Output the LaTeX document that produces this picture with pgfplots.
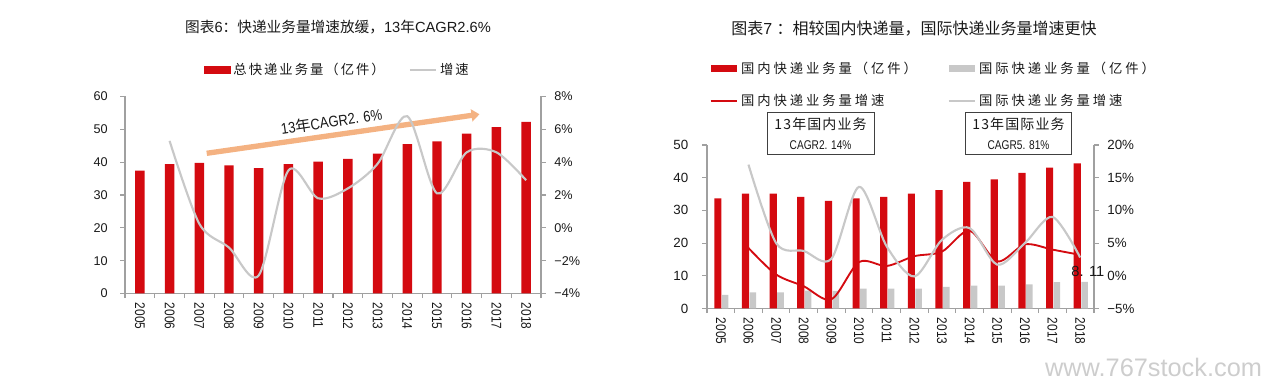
\documentclass[border=0pt]{standalone}
\usepackage{fontspec}
\setmainfont{Liberation Sans}
\newfontfamily\cjk{Noto Sans CJK SC}
\newfontfamily\cjkleg[LetterSpace=15]{Noto Sans CJK SC}
\newfontfamily\cjklegb[LetterSpace=22]{Noto Sans CJK SC}
\newfontfamily\cjkbox[LetterSpace=8]{Noto Sans CJK SC}
\newfontfamily\narrow[FakeStretch=0.85]{Liberation Sans}
\newfontfamily\narrowb[FakeStretch=0.8]{Liberation Sans}
\usepackage{pgfplots}
\usepackage{pgfplotstable}
\pgfplotsset{compat=1.18}
\usetikzlibrary{arrows.meta}

\definecolor{myred}{RGB}{212,10,16}
\definecolor{mygray}{RGB}{200,200,200}
\definecolor{linegray}{RGB}{200,200,200}
\definecolor{axcol}{RGB}{160,160,160}
\definecolor{txt}{RGB}{25,25,25}
\definecolor{arrowc}{RGB}{244,178,130}
\definecolor{wm}{RGB}{205,205,205}

\pgfplotstableread{
x y
0 37.4
1 39.4
2 39.8
3 39.0
4 38.2
5 39.4
6 40.2
7 41.0
8 42.6
9 45.5
10 46.3
11 48.7
12 50.7
13 52.3
}\lvol

\pgfplotstableread{
x y
1 5.3
2 0.25
3 -1.2
4 -2.9
5 3.5
6 1.8
7 2.4
8 3.9
9 6.8
10 2.1
11 4.6
12 4.6
13 2.9
}\lgrowth

\pgfplotstableread{
x dom intl
0 33.7 4.2
1 35.1 4.9
2 35.1 4.9
3 34.1 5.5
4 32.9 5.4
5 33.7 6.1
6 34.1 6.1
7 35.1 6.1
8 36.2 6.6
9 38.7 7.0
10 39.5 7.0
11 41.5 7.4
12 43.1 8.07
13 44.4 8.11
}\rvol

\pgfplotstableread{
x dom intl
1 4.25 17.0
2 0.2 5.0
3 -1.6 3.8
4 -3.6 2.6
5 2.1 13.6
6 1.5 4.5
7 3.0 -0.1
8 3.7 5.5
9 6.9 7.3
10 2.2 1.7
11 4.8 5.0
12 4.0 9.0
13 3.2 2.8
}\rgrowth

\pgfplotsset{
  base/.style={
    scale only axis,
    xmin=-0.5, xmax=13.5,
    clip=false,
    axis line style={axcol, line width=0.8pt},
    tick style={axcol, line width=0.8pt},
    major tick length=3.5pt,
    minor tick length=3.5pt,
    tick align=outside,
    ticklabel style={text=txt},
  },
  yearx/.style={
    axis x line*=bottom,
    xtick={0,...,13},
    xticklabels={2005,2006,2007,2008,2009,2010,2011,2012,2013,2014,2015,2016,2017,2018},
    major x tick style={draw=none},
    minor xtick={-0.5,0.5,...,13.5},
    xticklabel style={rotate=-90, anchor=west, font=\narrow\fontsize{10.5}{12}\selectfont, yshift=0pt},
  },
}

\begin{document}
\begin{tikzpicture}
\path[use as bounding box] (0,0) rectangle (948pt,291.75pt);

% titles
\node[text=txt, font=\fontsize{11}{13}\selectfont] at (253.5pt,271.5pt) {{\cjk 图表}6{\cjk ：快递业务量增速放缓，}13{\cjk 年}CAGR2.6\%};
\node[text=txt, font=\fontsize{12}{14}\selectfont] at (685.5pt,270.5pt) {{\cjk 图表}7 {\cjk ：相较国内快递量，国际快递业务量增速更快}};

% ---------------- left chart ----------------
\begin{axis}[base, yearx,
  at={(93.75pt,71.625pt)}, anchor=south west,
  width=312pt, height=147.75pt,
  ymin=0, ymax=60,
  axis y line*=left,
  ytick={0,10,20,30,40,50,60},
  yticklabels={0,10,20,30,40,50,60},
  yticklabel style={font=\fontsize{9.5}{11}\selectfont, xshift=-6pt},
  legend columns=2,
  legend cell align=left,
  legend style={at={(axis description cs:0.18,1.134)}, anchor=west, draw=none, fill=none,
    font=\cjkleg\fontsize{10}{12}\selectfont, text=txt, column sep=0pt,
    /tikz/every even column/.append style={column sep=16pt}},
]
\addplot[ybar, bar width=7.1pt, bar shift=0pt, fill=myred, draw=none,
  legend image code/.code={\fill[myred] (0pt,-2.8pt) rectangle (20pt,2.8pt);}]
  table[x=x,y=y]{\lvol};
\addlegendentry{总快递业务量（亿件）}
\addlegendimage{legend image code/.code={\draw[linegray, line width=1.5pt] (0pt,0pt) -- (20pt,0pt);}}
\addlegendentry{增速}
\draw[arrowc, line width=4pt, -{Triangle[length=6pt, width=9pt]}] (axis cs:2.25,42.7) -- (axis cs:11.43,54.6);
\node[rotate=8.5, font=\narrow\fontsize{11.5}{13}\selectfont, text=txt] at (axis cs:6.45,52.4) {13{\cjk 年}CAGR2. 6\%};
\end{axis}

\begin{axis}[base,
  at={(93.75pt,71.625pt)}, anchor=south west,
  width=312pt, height=147.75pt,
  ymin=-4, ymax=8,
  axis x line=none,
  axis y line*=right,
  ytick={-4,-2,0,2,4,6,8},
  yticklabels={−4\%,−2\%,0\%,2\%,4\%,6\%,8\%},
  yticklabel style={font=\fontsize{9.5}{11}\selectfont, xshift=3pt},
]
\addplot[smooth, linegray, line width=1.6pt] table[x=x,y=y]{\lgrowth};
\end{axis}

% ---------------- right chart ----------------
\begin{axis}[base, yearx,
  at={(530.25pt,60.375pt)}, anchor=south west,
  width=290.25pt, height=122.625pt,
  ymin=0, ymax=50,
  axis y line*=left,
  ytick={0,10,20,30,40,50},
  yticklabels={0,10,20,30,40,50},
  yticklabel style={font=\fontsize{10}{12}\selectfont, xshift=-7pt},
  legend columns=2,
  legend cell align=left,
  legend style={at={(axis description cs:-0.004,1.37)}, anchor=west, draw=none, fill=none,
    font=\cjklegb\fontsize{10}{12}\selectfont, text=txt, column sep=0pt, row sep=10pt,
    /tikz/every even column/.append style={column sep=21pt}},
]
\addplot[ybar, bar width=5.4pt, bar shift=-2.2pt, fill=myred, draw=none,
  legend image code/.code={\fill[myred] (0pt,-2.7pt) rectangle (20pt,2.7pt);}]
  table[x=x,y=dom]{\rvol};
\addlegendentry{国内快递业务量（亿件）}
\addplot[ybar, bar width=4.9pt, bar shift=3.3pt, fill=mygray, draw=none,
  legend image code/.code={\fill[mygray] (0pt,-2.7pt) rectangle (20pt,2.7pt);}]
  table[x=x,y=intl]{\rvol};
\addlegendentry{国际快递业务量（亿件）}
\addlegendimage{legend image code/.code={\draw[myred, line width=1.5pt] (0pt,0pt) -- (20pt,0pt);}}
\addlegendentry{国内快递业务量增速}
\addlegendimage{legend image code/.code={\draw[linegray, line width=1.5pt] (0pt,0pt) -- (20pt,0pt);}}
\addlegendentry{国际快递业务量增速}
\node[draw=black!75, line width=0.6pt, fill=white, minimum width=80pt, minimum height=31.5pt, align=center,
  font=\fontsize{10.5}{15}\selectfont, text=txt, inner sep=1pt] at (axis cs:3.61,53.4)
  {{\cjkbox 13年国内业务}\\{\narrowb\fontsize{9.5}{12}\selectfont CAGR2. 14\%}};
\node[draw=black!75, line width=0.6pt, fill=white, minimum width=80pt, minimum height=31.5pt, align=center,
  font=\fontsize{10.5}{15}\selectfont, text=txt, inner sep=1pt] at (axis cs:10.77,53.4)
  {{\cjkbox 13年国际业务}\\{\narrowb\fontsize{9.5}{12}\selectfont CAGR5. 81\%}};
\end{axis}

\begin{axis}[base,
  at={(530.25pt,60.375pt)}, anchor=south west,
  width=290.25pt, height=122.625pt,
  ymin=-5, ymax=20,
  axis x line=none,
  axis y line*=right,
  ytick={-5,0,5,10,15,20},
  yticklabels={−5\%,0\%,5\%,10\%,15\%,20\%},
  yticklabel style={font=\fontsize{10}{12}\selectfont, xshift=3pt},
]
\addplot[smooth, myred, line width=1.4pt] table[x=x,y=dom]{\rgrowth};
\addplot[smooth, linegray, line width=1.6pt] table[x=x,y=intl]{\rgrowth};
\node[font=\fontsize{11}{13}\selectfont, text=txt] at (axis cs:13.28,0.6) {8. 11};
\end{axis}

% watermark
\node[text=wm, font=\fontsize{19}{22}\selectfont, anchor=east] at (950pt,16pt) {www.767stock.com};
\end{tikzpicture}
\end{document}
